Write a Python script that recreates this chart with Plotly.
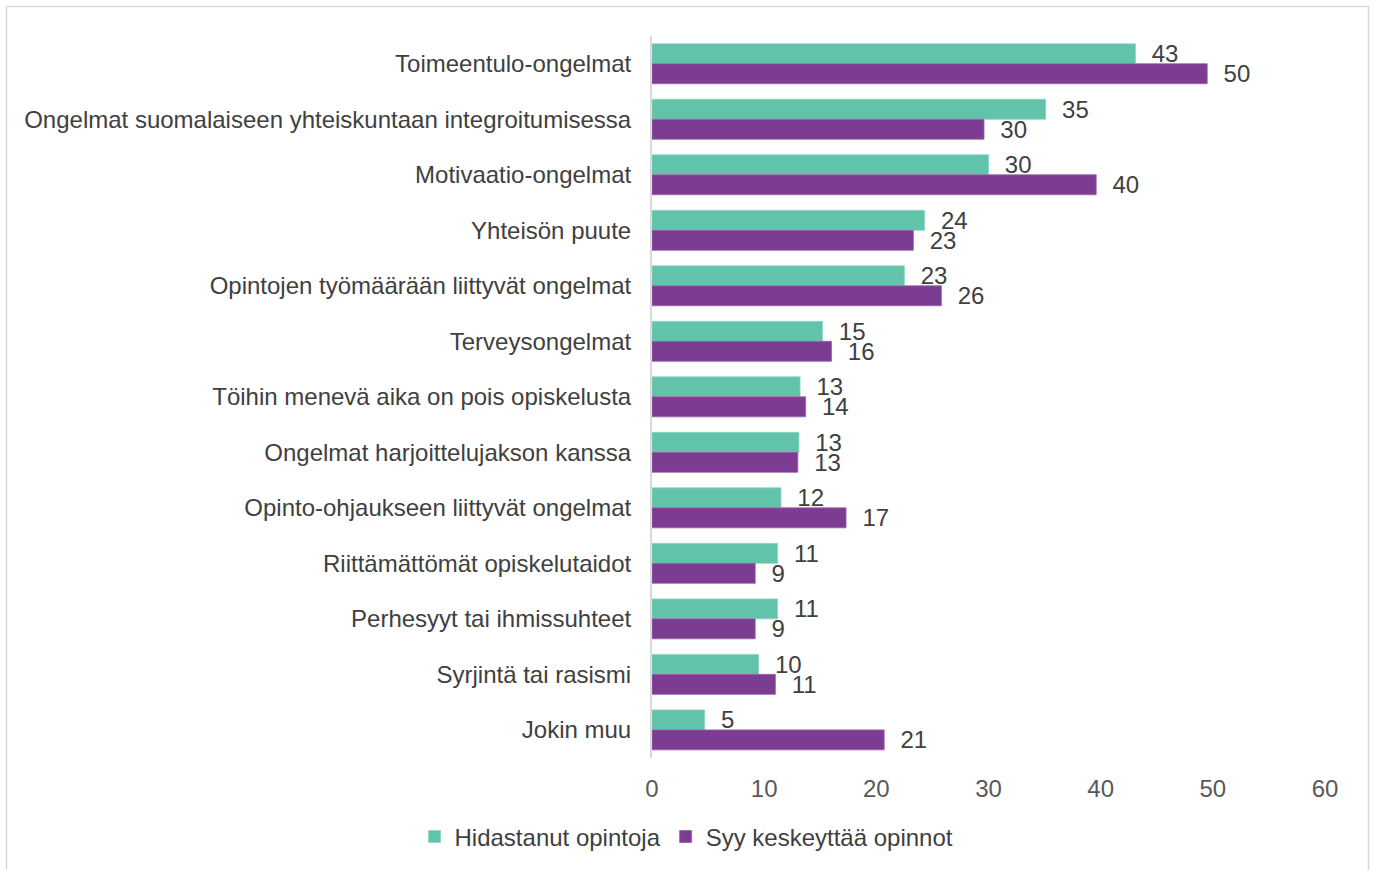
import plotly.graph_objects as go

categories = [
    "Toimeentulo-ongelmat",
    "Ongelmat suomalaiseen yhteiskuntaan integroitumisessa",
    "Motivaatio-ongelmat",
    "Yhteisön puute",
    "Opintojen työmäärään liittyvät ongelmat",
    "Terveysongelmat",
    "Töihin menevä aika on pois opiskelusta",
    "Ongelmat harjoittelujakson kanssa",
    "Opinto-ohjaukseen liittyvät ongelmat",
    "Riittämättömät opiskelutaidot",
    "Perhesyyt tai ihmissuhteet",
    "Syrjintä tai rasismi",
    "Jokin muu",
]
hidastanut = [43.1, 35.1, 30.0, 24.3, 22.5, 15.2, 13.2, 13.1, 11.5, 11.2, 11.2, 9.5, 4.7]
hidastanut_labels = ["43", "35", "30", "24", "23", "15", "13", "13", "12", "11", "11", "10", "5"]
keskeyttaa = [49.5, 29.6, 39.6, 23.3, 25.8, 16.0, 13.7, 13.0, 17.3, 9.2, 9.2, 11.0, 20.7]
keskeyttaa_labels = ["50", "30", "40", "23", "26", "16", "14", "13", "17", "9", "9", "11", "21"]
x_ticks = [0, 10, 20, 30, 40, 50, 60]

TEAL = "#60C3AA"
PURPLE = "#7C3C91"
FONT = "Liberation Sans, Arial, sans-serif"
FS = 24
pad = "\u00a0\u00a0"

fig = go.Figure()
fig.add_trace(go.Bar(
    y=categories, x=hidastanut, orientation="h", name="Hidastanut opintoja",
    marker=dict(color=TEAL, line=dict(color="#8fd6c4", width=0.8)),
    text=[pad + t for t in hidastanut_labels], textposition="outside",
    textfont=dict(size=FS, color="#404040", family=FONT),
    constraintext="none", cliponaxis=False,
))
fig.add_trace(go.Bar(
    y=categories, x=keskeyttaa, orientation="h", name="Syy keskeyttää opinnot",
    marker=dict(color=PURPLE, line=dict(color="#9a62ad", width=0.8)),
    text=[pad + t for t in keskeyttaa_labels], textposition="outside",
    textfont=dict(size=FS, color="#404040", family=FONT),
    constraintext="none", cliponaxis=False,
))

fig.update_layout(
    width=1373, height=870,
    barmode="group", bargap=0.28, bargroupgap=0,
    plot_bgcolor="white", paper_bgcolor="white",
    margin=dict(l=652, r=48, t=36, b=111),
    font=dict(family=FONT, size=FS, color="#404040"),
    showlegend=True,
    legend=dict(
        orientation="h", xref="container", yref="container",
        x=0.5, xanchor="center", y=0.038, yanchor="middle",
        font=dict(size=FS, color="#404040"), traceorder="normal",
        itemwidth=30,
    ),
    shapes=[dict(
        type="rect", xref="paper", yref="paper",
        x0=-652 / 673 + 6.5 / 673, x1=1 + 43.5 / 673,
        y0=-0.2, y1=1 + 29.5 / 723,
        line=dict(color="#d9d9d9", width=1.5), fillcolor="rgba(0,0,0,0)",
        layer="below",
    )],
)
fig.update_xaxes(
    range=[0, 60], tickvals=x_ticks, showgrid=False, zeroline=False,
    showline=False, ticks="outside", ticklen=10, tickcolor="rgba(0,0,0,0)",
    tickfont=dict(size=FS, color="#595959"),
)
fig.update_yaxes(
    autorange="reversed", showgrid=False, zeroline=False,
    showline=True, linecolor="#d9d9d9", linewidth=2,
    ticks="outside", ticklen=14, tickcolor="rgba(0,0,0,0)",
    tickfont=dict(size=FS, color="#404040"),
)

fig.write_html(
    "out.html",
    config={"displayModeBar": False},
    post_script="document.body.style.margin='0';document.body.style.padding='0';",
)
